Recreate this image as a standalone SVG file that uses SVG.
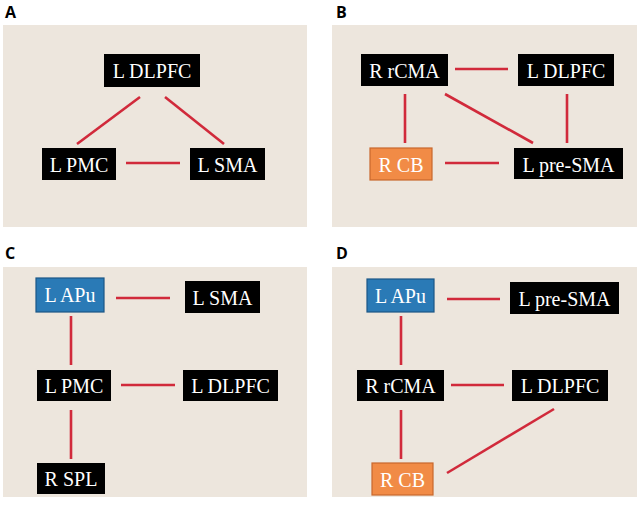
<svg xmlns="http://www.w3.org/2000/svg" width="640" height="506" viewBox="0 0 640 506">
<style>
.bg{fill:#ede6dd}
.pl{font-family:"Open Sans","Liberation Sans",Arial,sans-serif;font-weight:bold;font-size:16px;fill:#000}
.k{fill:#000}
.o{fill:#f18b46;stroke:#c9682c;stroke-width:1.2}
.b{fill:#2a7ab6;stroke:#1b5686;stroke-width:1.2}
.t{font-family:"Liberation Serif","Times New Roman",serif;font-size:20px;fill:#fff;text-anchor:middle}
.e line{stroke:#d12a3b;stroke-width:2.6}
</style>
<rect width="640" height="506" fill="#fff"/>
<g id="panels">
<rect class="bg" x="3" y="25" width="304" height="202"/>
<rect class="bg" x="332" y="25" width="305" height="202"/>
<rect class="bg" x="3" y="267" width="304" height="230"/>
<rect class="bg" x="332" y="267" width="305" height="230"/>
<text class="pl" x="5" y="18">A</text>
<text class="pl" x="336" y="18">B</text>
<text class="pl" x="5" y="259">C</text>
<text class="pl" x="336" y="259">D</text>
</g>
<g id="connectors" class="e">
<line x1="140" y1="97" x2="77" y2="144"/>
<line x1="165" y1="97" x2="224" y2="144"/>
<line x1="126" y1="163" x2="180" y2="163"/>
<line x1="455" y1="69" x2="508" y2="69"/>
<line x1="405" y1="94" x2="405" y2="143"/>
<line x1="567" y1="94" x2="567" y2="143"/>
<line x1="445" y1="94" x2="533" y2="143"/>
<line x1="445" y1="163" x2="499" y2="163"/>
<line x1="116" y1="298" x2="170" y2="298"/>
<line x1="71" y1="316" x2="71" y2="365"/>
<line x1="121" y1="385" x2="175" y2="385"/>
<line x1="71" y1="410" x2="71" y2="459"/>
<line x1="447" y1="299" x2="500" y2="299"/>
<line x1="401" y1="316" x2="401" y2="365"/>
<line x1="451" y1="385" x2="504" y2="385"/>
<line x1="401" y1="410" x2="401" y2="459"/>
<line x1="554" y1="409" x2="447" y2="473"/>
</g>
<g id="A_DLPFC"><rect class="k" x="104" y="54" width="96" height="33"/><text class="t" x="152" y="78">L DLPFC</text></g>
<g id="A_PMC"><rect class="k" x="42" y="148" width="74" height="32"/><text class="t" x="79" y="172">L PMC</text></g>
<g id="A_SMA"><rect class="k" x="190" y="148" width="75" height="32"/><text class="t" x="227.5" y="172">L SMA</text></g>
<g id="B_rCMA"><rect class="k" x="361" y="54" width="87" height="32"/><text class="t" x="404.5" y="78">R rCMA</text></g>
<g id="B_DLPFC"><rect class="k" x="518" y="54" width="96" height="32"/><text class="t" x="566" y="78">L DLPFC</text></g>
<g id="B_CB"><rect class="o" x="370" y="148" width="62" height="32"/><text class="t" x="401" y="172">R CB</text></g>
<g id="B_preSMA"><rect class="k" x="514" y="148" width="109" height="31"/><text class="t" x="568.5" y="172">L pre-SMA</text></g>
<g id="C_APu"><rect class="b" x="36" y="278" width="68" height="34"/><text class="t" x="70" y="302">L APu</text></g>
<g id="C_SMA"><rect class="k" x="185" y="281" width="75" height="32"/><text class="t" x="222.5" y="305">L SMA</text></g>
<g id="C_PMC"><rect class="k" x="37" y="370" width="74" height="31"/><text class="t" x="74" y="393">L PMC</text></g>
<g id="C_DLPFC"><rect class="k" x="183" y="370" width="95" height="31"/><text class="t" x="230.5" y="393">L DLPFC</text></g>
<g id="C_SPL"><rect class="k" x="37" y="463" width="68" height="31"/><text class="t" x="71" y="486">R SPL</text></g>
<g id="D_APu"><rect class="b" x="367" y="279" width="67" height="33"/><text class="t" x="400.5" y="303">L APu</text></g>
<g id="D_preSMA"><rect class="k" x="510" y="282" width="109" height="32"/><text class="t" x="564.5" y="306">L pre-SMA</text></g>
<g id="D_rCMA"><rect class="k" x="357" y="370" width="87" height="31"/><text class="t" x="400.5" y="393">R rCMA</text></g>
<g id="D_DLPFC"><rect class="k" x="512" y="370" width="96" height="31"/><text class="t" x="560" y="393">L DLPFC</text></g>
<g id="D_CB"><rect class="o" x="372" y="463" width="61" height="32"/><text class="t" x="402.5" y="487">R CB</text></g>
</svg>
